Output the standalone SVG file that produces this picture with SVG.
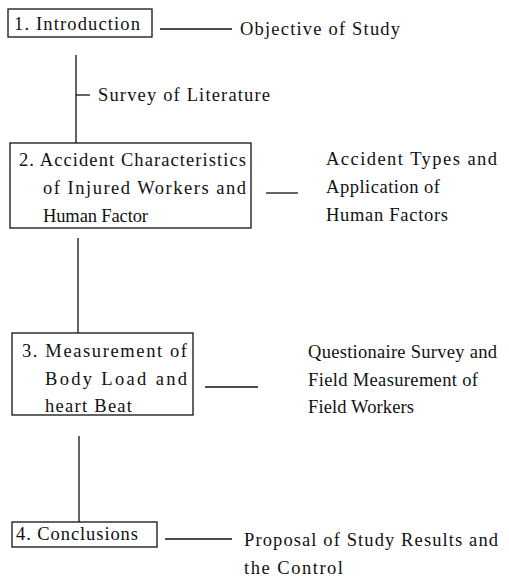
<svg xmlns="http://www.w3.org/2000/svg" width="509" height="585" viewBox="0 0 509 585">
<style>
rect.box{fill:#fff;stroke:#111;stroke-width:1.3}
.c line{stroke:#111;stroke-width:1.3}
text{font-family:"Liberation Serif","Times New Roman",serif;font-size:18.5px;fill:#111}
</style>
<rect width="509" height="585" fill="#fff"/>
<g class="c" id="connectors">
<line x1="76" y1="55" x2="76" y2="143"/>
<line x1="76" y1="95" x2="90" y2="95"/>
<line x1="78" y1="238" x2="78" y2="333"/>
<line x1="79" y1="436" x2="79" y2="522"/>
<line x1="160" y1="29" x2="232" y2="29"/>
<line x1="266" y1="193" x2="298" y2="193"/>
<line x1="205" y1="387" x2="258" y2="387"/>
<line x1="165" y1="539" x2="232" y2="539"/>
</g>
<g id="n1">
<rect class="box" x="8" y="9" width="144" height="28"/>
<text x="14" y="30" textLength="126" lengthAdjust="spacing">1. Introduction</text>
</g>
<g id="l1"><text x="240" y="35" textLength="160" lengthAdjust="spacing">Objective of Study</text></g>
<g id="l2"><text x="98" y="101" textLength="172" lengthAdjust="spacing">Survey of Literature</text></g>
<g id="n2">
<rect class="box" x="10" y="143" width="241" height="85"/>
<text x="19" y="166" textLength="227" lengthAdjust="spacing">2. Accident Characteristics</text>
<text x="43" y="194" textLength="203" lengthAdjust="spacing">of Injured Workers and</text>
<text x="43" y="222" textLength="105" lengthAdjust="spacing">Human Factor</text>
</g>
<g id="l3">
<text x="326" y="165" textLength="171" lengthAdjust="spacing">Accident Types and</text>
<text x="326" y="193" textLength="114" lengthAdjust="spacing">Application of</text>
<text x="326" y="221" textLength="122" lengthAdjust="spacing">Human Factors</text>
</g>
<g id="n3">
<rect class="box" x="12" y="333" width="181" height="82"/>
<text x="22" y="357" textLength="165" lengthAdjust="spacing">3. Measurement of</text>
<text x="45" y="385" textLength="142" lengthAdjust="spacing">Body Load and</text>
<text x="45" y="412" textLength="87" lengthAdjust="spacing">heart Beat</text>
</g>
<g id="l4">
<text x="308" y="358" textLength="189" lengthAdjust="spacing">Questionaire Survey and</text>
<text x="308" y="386" textLength="170" lengthAdjust="spacing">Field Measurement of</text>
<text x="308" y="413" textLength="106" lengthAdjust="spacing">Field Workers</text>
</g>
<g id="n4">
<rect class="box" x="12" y="522" width="145" height="25"/>
<text x="16" y="540" textLength="122" lengthAdjust="spacing">4. Conclusions</text>
</g>
<g id="l5">
<text x="244" y="546" textLength="254" lengthAdjust="spacing">Proposal of Study Results and</text>
<text x="244" y="574" textLength="99" lengthAdjust="spacing">the Control</text>
</g>
</svg>
